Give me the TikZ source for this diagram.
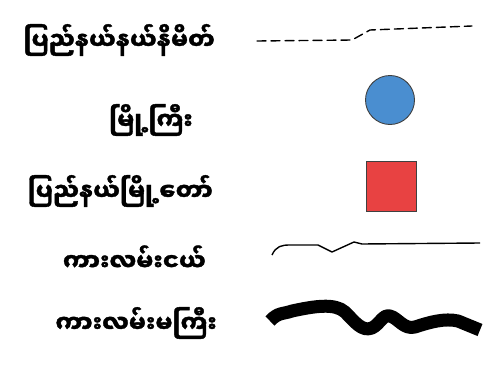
\documentclass[tikz,border=0pt]{standalone}
\usepackage{fontspec}
\newfontfamily\mmfont[Script=Myanmar, FakeBold=1.5]{Noto Sans Myanmar UI}
\usetikzlibrary{positioning}
\definecolor{townblue}{RGB}{74,142,208}
\definecolor{capred}{RGB}{232,66,66}

\begin{document}
\begin{tikzpicture}[x=1pt, y=-1pt,
  lab/.style={font=\mmfont\bfseries\fontsize{24}{28}\selectfont, inner sep=0pt, anchor=east},
  sym/.style={draw=black!75, line width=0.9pt},
  road/.style={line width=1.4pt, line cap=round, line join=round},
]
\useasboundingbox (0,0) rectangle (493,372);
% labels
\node[lab] (bound) at (215,40) {ပြည်နယ်နယ်နိမိတ်};
\node[lab] (town) at (193,120) {မြို့ကြီး};
\node[lab] (capital) at (213,191) {ပြည်နယ်မြို့တော်};
\node[lab] (minor) at (206,258) {ကားလမ်းငယ်};
\node[lab] (major) at (217,323) {ကားလမ်းမကြီး};
% symbols
\node[sym, circle, fill=townblue, minimum size=49pt, inner sep=0pt] (towndot) at (390,100) {};
\node[sym, rectangle, fill=capred, minimum size=50pt, inner sep=0pt] (capbox) at (391,186) {};
\draw[road, dash pattern=on 9pt off 5pt] (257,41) -- (352,40) -- (370,30) -- (472,26);
\draw[road, line cap=butt] (272,255) .. controls (276,246) and (282,245) .. (290,245)
  -- (318,245) -- (332,252) -- (354,242) -- (362,244) -- (480,243);
\draw[line width=13pt, line join=round, line cap=butt] (270,321)
  .. controls (278,312) and (284,314) .. (292,311)
  .. controls (315,306) and (335,303) .. (345,312)
  .. controls (355,322) and (362,332) .. (372,328)
  .. controls (380,324) and (383,314) .. (390,316)
  .. controls (398,318) and (404,330) .. (415,327)
  .. controls (430,322) and (445,318) .. (458,321)
  -- (480,330);
\end{tikzpicture}
\end{document}
